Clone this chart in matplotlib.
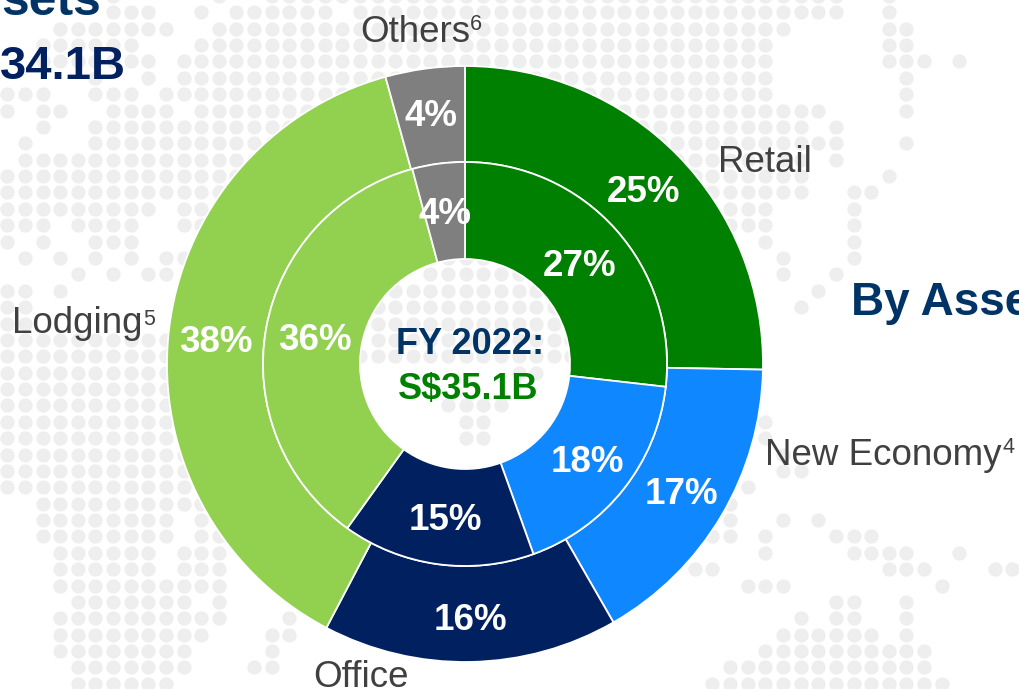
import matplotlib
matplotlib.use("Agg")
import matplotlib.pyplot as plt

plt.rcParams['font.family'] = ['Liberation Sans', 'DejaVu Sans']

# ---- data ----
categories = ["Retail", "New Economy", "Office", "Lodging", "Others"]
fy2022_inner = [26.8, 17.7, 15.4, 35.9, 4.2]
fy2021_outer = [25.3, 16.4, 16.0, 38.0, 4.3]
inner_labels = ["27%", "18%", "15%", "36%", "4%"]
outer_labels = ["25%", "17%", "16%", "38%", "4%"]
colors = ["#008000", "#0F87FF", "#002060", "#92D050", "#7F7F7F"]

# ---- decorative dot-map background: row -> runs of grid columns ----
dot_rows = {
    -1: [(6, 6), (12, 12), (15, 47), (50, 50)],
    0: [(6, 8), (11, 11), (13, 18), (20, 47), (50, 50)],
    1: [(3, 9), (12, 44), (50, 51)],
    2: [(2, 7), (11, 43), (50, 51)],
    3: [(2, 8), (10, 43), (50, 52), (54, 54)],
    4: [(5, 5), (8, 8), (10, 43), (51, 51)],
    5: [(0, 2), (5, 7), (9, 43), (51, 51)],
    6: [(0, 0), (2, 3), (6, 9), (11, 46), (51, 51)],
    7: [(2, 2), (5, 45), (47, 47)],
    8: [(1, 1), (5, 47), (51, 51)],
    9: [(1, 45), (47, 47)],
    10: [(0, 45), (50, 50)],
    11: [(0, 45), (48, 49)],
    12: [(0, 8), (10, 43), (48, 48)],
    13: [(0, 2), (4, 7), (10, 11), (30, 43), (48, 48)],
    14: [(0, 0), (2, 2), (5, 7), (43, 43), (48, 48)],
    15: [(1, 1), (3, 3), (5, 5), (7, 7), (9, 10), (25, 27), (44, 44), (48, 48)],
    16: [(4, 4), (6, 6), (8, 9), (24, 29), (44, 44), (47, 47)],
    17: [(0, 1), (3, 3), (22, 31), (46, 46)],
    18: [(0, 1), (21, 32), (45, 45)],
    19: [(0, 1), (21, 32)],
    20: [(0, 10), (21, 32)],
    21: [(0, 10), (20, 32)],
    22: [(0, 10), (29, 30)],
    23: [(0, 10)],
    24: [(0, 10), (25, 28)],
    25: [(0, 10), (26, 27), (43, 43)],
    26: [(0, 10), (26, 27), (43, 43)],
    27: [(0, 10), (44, 44)],
    28: [(0, 10), (44, 45)],
    29: [(0, 10), (42, 42)],
    30: [(2, 11), (41, 41)],
    31: [(2, 9), (11, 11), (41, 41), (44, 44), (46, 46)],
    32: [(2, 9), (11, 12), (40, 41), (43, 43), (47, 49)],
    33: [(3, 8), (10, 12), (43, 43), (48, 51), (54, 54)],
    34: [(3, 8), (10, 12), (39, 40), (50, 52), (56, 57)],
    35: [(3, 12), (42, 44), (53, 53)],
    36: [(4, 10), (12, 12), (47, 48), (51, 51)],
    37: [(3, 12), (16, 16), (45, 45), (47, 48), (51, 51)],
    38: [(3, 11), (15, 16), (44, 49), (51, 51)],
    39: [(3, 10), (15, 15), (43, 52)],
    40: [(4, 10), (14, 15), (41, 52)],
    41: [(4, 9), (40, 53)],
}

W, H = 1019, 689
CX, CY = 465, 364
R_OUT, R_MID, R_HOLE = 298, 202, 105


def fy(y):
    return H - y


fig = plt.figure(figsize=(W / 100, H / 100), dpi=100, facecolor="white")
ax = fig.add_axes([0, 0, 1, 1])

xs, ys = [], []
for r, runs in dot_rows.items():
    for a, b in runs:
        for c in range(a, b + 1):
            xs.append(7.3 + 17.63 * c)
            ys.append(fy(12.3 + 16.38 * r))
ax.scatter(xs, ys, s=106, color="#EEEEEE", linewidths=0, zorder=1)

wp = dict(edgecolor="white", linewidth=1.3)
ax.pie(fy2021_outer, colors=colors, startangle=90, counterclock=False,
       center=(CX, fy(CY)), radius=R_OUT,
       wedgeprops=dict(width=R_OUT - R_MID, **wp))
ax.pie(fy2022_inner, colors=colors, startangle=90, counterclock=False,
       center=(CX, fy(CY)), radius=R_MID,
       wedgeprops=dict(width=R_MID - R_HOLE, **wp))
for p in ax.patches:
    p.set_zorder(2)

ax.set_xlim(0, W)
ax.set_ylim(0, H)
ax.set_aspect("equal")
ax.axis("off")

# percentage labels
outer_pos = [(644, 192), (681, 495), (470, 620), (216, 342), (431, 117)]
inner_pos = [(580, 266), (587, 463), (445, 520), (315, 341), (445, 215)]
for lab, (x, y) in zip(outer_labels + inner_labels, outer_pos + inner_pos):
    ax.text(x, fy(y), lab, color="white", fontsize=26.5, fontweight="bold",
            ha="center", va="center", zorder=4)

# category labels: (text, x, baseline y, superscript, sup x, sup baseline y)
GREY = "#404040"
cat_text = [
    ("Others", 360, 42, "6", 470, 30),
    ("Retail", 718, 172, "", 0, 0),
    ("Lodging", 12, 333, "5", 143, 325),
    ("New Economy", 765, 465, "4", 1003, 453),
    ("Office", 313, 687, "", 0, 0),
]
for t, x, y, s, sx, sy in cat_text:
    ax.text(x, fy(y), t, color=GREY, fontsize=26.5, ha="left", va="baseline", zorder=4)
    if s:
        ax.text(sx, fy(sy), s, color=GREY, fontsize=15.5, ha="left", va="baseline", zorder=4)

# centre text
ax.text(470, fy(344), "FY 2022:", color="#003366", fontsize=26, fontweight="bold",
        ha="center", va="center", zorder=4)
ax.text(468, fy(389), "S$35.1B", color="#008000", fontsize=26, fontweight="bold",
        ha="center", va="center", zorder=4)

# clipped headings
ax.text(101, fy(15), "sets", color="#003366", fontsize=36, fontweight="bold",
        ha="right", va="baseline", zorder=4)
ax.text(126, fy(79), "34.1B", color="#002060", fontsize=34, fontweight="bold",
        ha="right", va="baseline", zorder=4)
ax.text(851, fy(315), "By Asset", color="#003366", fontsize=33, fontweight="bold",
        ha="left", va="baseline", zorder=4)

fig.savefig("out.png", dpi=100, facecolor="white")
